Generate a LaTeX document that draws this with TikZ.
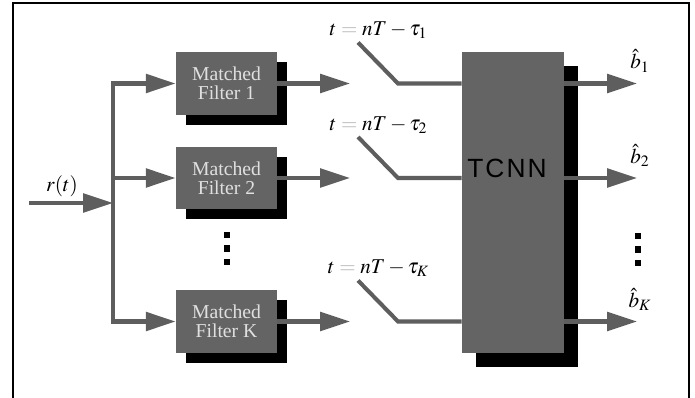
\documentclass[tikz,border=0pt]{standalone}
\usepackage{mathptmx}
\usepackage{fontspec}
\setmainfont{Liberation Serif}
\newfontfamily\nnfont{Liberation Sans}[LetterSpace=8]
\usetikzlibrary{arrows.meta,shadows}

\definecolor{wiregray}{HTML}{5E5E5E}
\definecolor{boxgray}{HTML}{646464}
\definecolor{eqgray}{HTML}{B4B4B4}

\tikzset{
  wire/.style={draw=wiregray, line width=2.3pt},
  flow/.style={wire, -{Triangle[length=17pt,width=10.5pt]}},
  filterbox/.style={fill=boxgray, text=white!88!black, inner sep=0pt,
    minimum width=2.02cm, minimum height=1.26cm, align=center,
    font=\fontsize{11.2}{11}\selectfont,
    drop shadow={shadow xshift=0.2cm, shadow yshift=-0.2cm, fill=black, opacity=1}},
  nnbox/.style={fill=boxgray, inner sep=0pt, minimum width=2.04cm, minimum height=6.02cm,
    drop shadow={shadow xshift=0.27cm, shadow yshift=-0.28cm, fill=black, opacity=1}},
  outlabel/.style={inner sep=0.5pt, anchor=south},
  dotmark/.style={fill=black, minimum size=3.8pt, inner sep=0pt},
}
\newcommand{\sampleat}[1]{$t \mathrel{\color{eqgray}=} nT - \tau_{#1}$}

\begin{document}
\begin{tikzpicture}[x=0.02cm, y=-0.02cm, font=\fontsize{12}{14}\selectfont]
  \useasboundingbox (0,0) rectangle (695,398);

  % frame (open at the bottom)
  \draw[line width=1.4pt] (13,398) -- (13,3) -- (689,3) -- (689,398);

  % network block
  \node[nnbox] (tcnn) at (513,202.5) {};
  \node[font=\nnfont\fontsize{15}{15}\selectfont] (tcnnlabel) at (507,168) {TCNN};

  % input and split point
  \node (rt) at (62,186) {$r(t)$};
  \coordinate (rin) at (29,203);
  \coordinate (split) at (113,203);
  \draw[flow] (rin) -- (split);

  % one channel per matched filter
  \foreach \ch/\y in {1/83.5, 2/178, K/321.5} {
    \node[filterbox] (mf\ch) at (226.5,\y) {Matched\\Filter \ch};
    \coordinate (out\ch) at (350,\y);
    \coordinate (top\ch) at (358,\y-41);
    \coordinate (piv\ch) at (398,\y);
    \coordinate (bt\ch) at (637,\y);
    \node (lab\ch) at (378.5,\y-53) {\sampleat{\ch}};
    \node[outlabel] (b\ch) at (640,\y-10) {$\hat{b}_{\ch}$};

    \draw[flow] (mf\ch.east) -- (out\ch);
    \draw[wire] (top\ch) -- (piv\ch) -- (piv\ch -| tcnn.west);
    \draw[flow] (tcnn.east |- piv\ch) -- (bt\ch);
  }

  % branches from the split point
  \draw[flow] (split) |- (mf1.west);
  \draw[flow] (split) |- (mfK.west);
  \draw[flow] (split |- mf2.west) -- (mf2.west);

  % vertical dots
  \foreach \k in {0,1,2} {
    \node[dotmark] (ldot\k) at (227,235+13.5*\k) {};
    \node[dotmark] (rdot\k) at (638,236+13.5*\k) {};
  }
\end{tikzpicture}
\end{document}
